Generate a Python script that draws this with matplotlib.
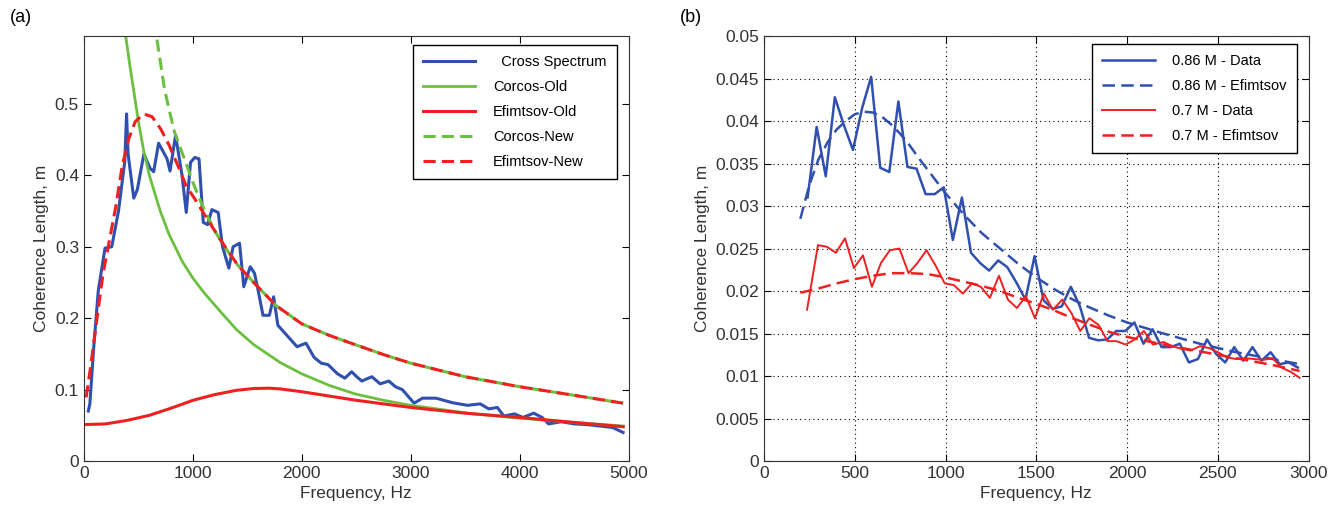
import numpy as np
import matplotlib
matplotlib.use('Agg')
import matplotlib.pyplot as plt
from matplotlib.ticker import FormatStrFormatter

plt.rcParams['font.family'] = ['Liberation Sans', 'DejaVu Sans']

# ---------------- panel (a) data ----------------
cs_f = [40, 54, 90, 131, 193, 255, 317, 375, 391, 405, 457, 490, 550, 606, 640, 685, 763, 790,
        841, 900, 939, 978, 1017, 1056, 1095, 1135, 1174, 1232, 1272, 1330, 1369, 1428, 1467, 1526,
        1565, 1604, 1643, 1702, 1741, 1780, 1868, 1956, 2038, 2113, 2178, 2240, 2328, 2395,
        2457, 2504, 2550, 2643, 2719, 2798, 2860, 2922, 3030, 3108, 3232, 3326, 3387, 3521,
        3638, 3716, 3795, 3854, 3951, 4030, 4128, 4206, 4265, 4382, 4499, 4617, 4734, 4851, 4949]
cs_L = [0.07, 0.08, 0.16, 0.238, 0.298, 0.30, 0.35, 0.42, 0.486, 0.43, 0.368, 0.38, 0.43, 0.41,
        0.405, 0.445, 0.423, 0.406, 0.456, 0.40, 0.348, 0.418, 0.425, 0.423, 0.334, 0.331, 0.352,
        0.348, 0.30, 0.27, 0.30, 0.305, 0.244, 0.272, 0.263, 0.235, 0.204, 0.204, 0.23, 0.19,
        0.175, 0.16, 0.165, 0.145, 0.137, 0.135, 0.122, 0.116, 0.125, 0.118, 0.112, 0.118, 0.108,
        0.112, 0.104, 0.100, 0.081, 0.088, 0.088, 0.084, 0.0815, 0.078, 0.08, 0.073, 0.075, 0.063,
        0.066, 0.061, 0.067, 0.061, 0.052, 0.055, 0.052, 0.051, 0.049, 0.047, 0.04]

co_old_f = [383, 420, 450, 500, 550, 600, 700, 782, 900, 1000, 1100, 1248, 1400, 1558, 1800,
            2000, 2250, 2488, 2750, 3000, 3573, 4000, 4500, 4950]
co_old_L = [0.595, 0.555, 0.525, 0.475, 0.433, 0.40, 0.35, 0.317, 0.28, 0.256, 0.236, 0.21, 0.184,
            0.163, 0.138, 0.122, 0.106, 0.094, 0.085, 0.078, 0.066, 0.060, 0.054, 0.049]

ef_old_f = [0, 200, 400, 600, 800, 1000, 1200, 1400, 1558, 1700, 1800, 2000, 2250, 2500, 3000,
            3500, 4000, 4500, 4950]
ef_old_L = [0.051, 0.052, 0.057, 0.064, 0.074, 0.085, 0.093, 0.099, 0.1015, 0.102, 0.101, 0.097,
            0.091, 0.085, 0.075, 0.067, 0.061, 0.054, 0.048]

co_new_f = [670, 740, 826, 880, 927, 1000, 1092, 1200, 1300, 1408, 1558, 1760, 2000, 2250, 2488,
            2750, 3000, 3500, 4000, 4500, 4949]
co_new_L = [0.59, 0.52, 0.463, 0.44, 0.421, 0.39, 0.356, 0.322, 0.298, 0.275, 0.250, 0.218,
            0.192, 0.176, 0.163, 0.149, 0.137, 0.118, 0.104, 0.092, 0.081]

ef_new_f = [20, 59, 117, 176, 235, 293, 352, 411, 470, 548, 626, 704, 782, 861, 939, 1017, 1135,
            1252, 1408, 1558, 1760, 2000, 2250, 2488, 2750, 3000, 3500, 4000, 4500, 4949]
ef_new_L = [0.089, 0.13, 0.197, 0.263, 0.31, 0.357, 0.414, 0.451, 0.475, 0.486, 0.482, 0.465,
            0.442, 0.414, 0.385, 0.367, 0.338, 0.31, 0.275, 0.250, 0.218, 0.192, 0.176, 0.163,
            0.149, 0.137, 0.118, 0.104, 0.092, 0.081]

# ---------------- panel (b) data ----------------
b86_f = [240, 290, 340, 390, 440, 490, 540, 590, 640, 690, 740, 790, 840, 890, 940, 990, 1040,
         1090, 1140, 1190, 1240, 1290, 1340, 1390, 1440, 1490, 1540, 1590, 1640, 1690, 1740, 1790,
         1840, 1890, 1940, 1990, 2040, 2090, 2140, 2190, 2240, 2290, 2340, 2390, 2440, 2490, 2540,
         2590, 2640, 2690, 2740, 2790, 2840, 2890, 2940]
b86_L = [0.0310, 0.0393, 0.0335, 0.0428, 0.0395, 0.0366, 0.0415, 0.0452, 0.0345, 0.0340, 0.0423,
         0.0346, 0.0344, 0.0314, 0.0314, 0.0322, 0.0260, 0.0310, 0.0245, 0.0233, 0.0224, 0.0236,
         0.0228, 0.0210, 0.0190, 0.0241, 0.0189, 0.0179, 0.0182, 0.0205, 0.0182, 0.0145, 0.0142,
         0.0143, 0.0153, 0.0153, 0.0163, 0.0138, 0.0155, 0.0134, 0.0134, 0.0138, 0.0116, 0.0120,
         0.0143, 0.0126, 0.0116, 0.0134, 0.0118, 0.0134, 0.0118, 0.0128, 0.0114, 0.0116, 0.0110]

e86_f = [200, 250, 300, 350, 400, 450, 500, 550, 600, 650, 700, 750, 800, 850, 900, 1000, 1100,
         1200, 1300, 1400, 1500, 1600, 1700, 1800, 1900, 2000, 2200, 2400, 2600, 2800, 2950]
e86_L = [0.0285, 0.0325, 0.0355, 0.0375, 0.0390, 0.0400, 0.0408, 0.0411, 0.0410, 0.0405, 0.0396,
         0.0385, 0.0372, 0.0357, 0.0343, 0.0315, 0.0290, 0.0268, 0.0250, 0.0232, 0.0216, 0.0202,
         0.0190, 0.0180, 0.0171, 0.0163, 0.0150, 0.0138, 0.0128, 0.0120, 0.0114]

b70_f = [237, 297, 347, 396, 446, 495, 545, 594, 644, 693, 746, 796, 845, 895, 945, 995, 1045,
         1095, 1145, 1194, 1244, 1294, 1343, 1393, 1442, 1492, 1541, 1591, 1643, 1693, 1742, 1792,
         1843, 1892, 1942, 1992, 2042, 2092, 2142, 2200, 2250, 2300, 2350, 2400, 2450, 2500, 2550,
         2600, 2650, 2700, 2750, 2800, 2850, 2900, 2950]
b70_L = [0.0178, 0.0254, 0.0252, 0.0245, 0.0262, 0.0227, 0.0242, 0.0205, 0.0233, 0.0248, 0.0250,
         0.0221, 0.0233, 0.0248, 0.0230, 0.0209, 0.0207, 0.0197, 0.0209, 0.0205, 0.0192, 0.0218,
         0.0190, 0.0180, 0.0194, 0.0168, 0.0197, 0.0178, 0.0190, 0.0174, 0.0153, 0.0168, 0.0160,
         0.0141, 0.0141, 0.0137, 0.0143, 0.0153, 0.0137, 0.0140, 0.0135, 0.0132, 0.0130, 0.0135,
         0.0133, 0.0128, 0.0122, 0.0120, 0.0121, 0.0120, 0.0119, 0.0121, 0.0110, 0.0105, 0.0098]

e70_f = [200, 300, 400, 500, 600, 700, 800, 900, 1000, 1100, 1200, 1300, 1400, 1500, 1600, 1700,
         1800, 1900, 2000, 2200, 2400, 2600, 2800, 2950]
e70_L = [0.0198, 0.0203, 0.0209, 0.0214, 0.0218, 0.0221, 0.0221, 0.0220, 0.0216, 0.0211, 0.0206,
         0.0200, 0.0192, 0.0185, 0.0177, 0.0168, 0.0160, 0.0152, 0.0146, 0.0137, 0.0129, 0.0121,
         0.0113, 0.0106]

blue = '#3050b0'
green = '#6cc040'
red = '#ee2020'

fig = plt.figure(figsize=(13.35, 5.23), dpi=100)
ax1 = fig.add_axes([0.0629, 0.1185, 0.408, 0.8126])
ax2 = fig.add_axes([0.5723, 0.1185, 0.408, 0.8126])

# (a)
ax1.plot(cs_f, cs_L, color=blue, lw=2.2, label='  Cross Spectrum')
ax1.plot(co_old_f, co_old_L, color=green, lw=2, label='Corcos-Old')
ax1.plot(ef_old_f, ef_old_L, color=red, lw=2.2, label='Efimtsov-Old')
ax1.plot(co_new_f, co_new_L, color=green, lw=2.2, ls=(0, (4, 2)), label='Corcos-New')
ax1.plot(ef_new_f, ef_new_L, color=red, lw=2.2, ls=(0, (4, 2)), label='Efimtsov-New')
ax1.set_xlim(0, 5000)
ax1.set_ylim(0, 0.595)
ax1.set_xticks(np.arange(0, 5001, 1000))
ax1.set_yticks(np.arange(0, 0.51, 0.1))
ax1.yaxis.set_major_formatter(FormatStrFormatter('%g'))
ax1.legend(loc='upper right', bbox_to_anchor=(0.978, 0.979), borderaxespad=0, fontsize=10.5,
           handlelength=3.6, handletextpad=1.2, labelspacing=0.75, fancybox=False,
           edgecolor='k', framealpha=1, borderpad=0.7)

# (b)
ax2.plot(b86_f, b86_L, color=blue, lw=1.8, label='0.86 M - Data')
ax2.plot(e86_f, e86_L, color=blue, lw=1.8, ls=(0, (5, 2.5)), label='0.86 M - Efimtsov')
ax2.plot(b70_f, b70_L, color=red, lw=1.4, label='0.7 M - Data')
ax2.plot(e70_f, e70_L, color=red, lw=1.8, ls=(0, (5, 2.5)), label='0.7 M - Efimtsov')
ax2.set_xlim(0, 3000)
ax2.set_ylim(0, 0.05)
ax2.set_xticks(np.arange(0, 3001, 500))
ax2.set_yticks(np.arange(0, 0.0501, 0.005))
ax2.yaxis.set_major_formatter(FormatStrFormatter('%g'))
ax2.grid(True, linestyle=(0, (1, 3)), color='k', linewidth=0.8)
ax2.legend(loc='upper right', bbox_to_anchor=(0.978, 0.981), borderaxespad=0, fontsize=10.5,
           handlelength=3.6, handletextpad=1.2, labelspacing=0.75, fancybox=False,
           edgecolor='k', framealpha=1, borderpad=0.7)

for ax in (ax1, ax2):
    ax.tick_params(direction='in', top=True, right=True, labelsize=12.5, length=5, width=0.8,
                   labelcolor='#333333')
    ax.set_xlabel('Frequency, Hz', fontsize=12.5, color='#333333')
    ax.set_ylabel('Coherence Length, m', fontsize=12.5, color='#333333')
    for s in ax.spines.values():
        s.set_color('#333333')

fig.text(10 / 1335, 1 - 17 / 523, '(a)', fontsize=13, va='center', ha='left')
fig.text(680 / 1335, 1 - 17 / 523, '(b)', fontsize=13, va='center', ha='left')

fig.savefig('out.png', dpi=100)
